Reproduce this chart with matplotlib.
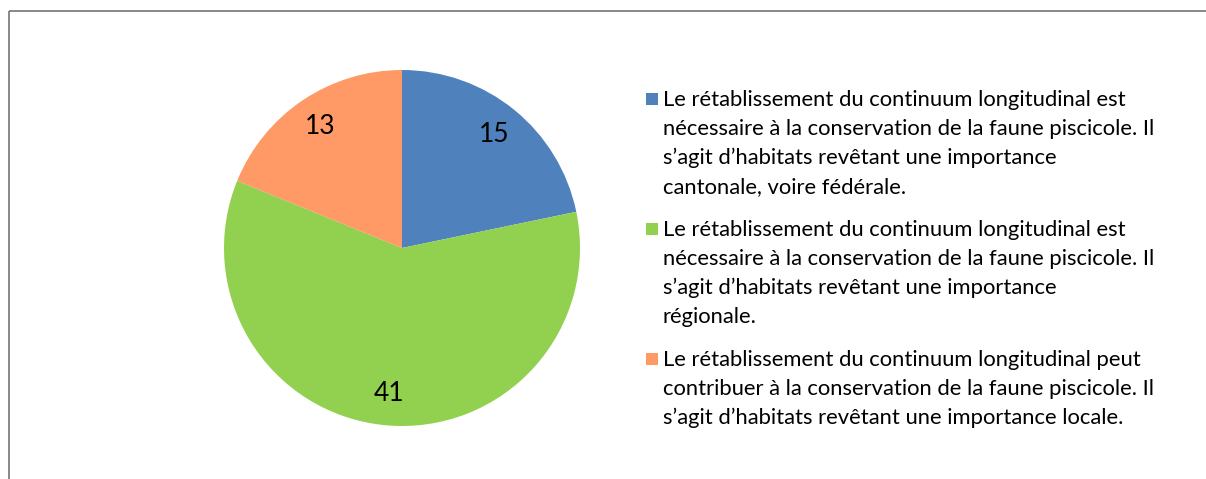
import matplotlib
matplotlib.use("Agg")
import matplotlib.pyplot as plt
from matplotlib.patches import Rectangle

values = [15, 41, 13]
colors = ["#4F81BD", "#92D050", "#FF9966"]
legend_lines = [
    ["Le rétablissement du continuum longitudinal est",
     "nécessaire à la conservation de la faune piscicole. Il",
     "s’agit d’habitats revêtant une importance",
     "cantonale, voire fédérale."],
    ["Le rétablissement du continuum longitudinal est",
     "nécessaire à la conservation de la faune piscicole. Il",
     "s’agit d’habitats revêtant une importance",
     "régionale."],
    ["Le rétablissement du continuum longitudinal peut",
     "contribuer à la conservation de la faune piscicole. Il",
     "s’agit d’habitats revêtant une importance locale."],
]

W, H = 1206, 479
fig = plt.figure(figsize=(W / 100, H / 100), dpi=100)
fig.patch.set_facecolor("white")
FONT = "Lato"

# overlay axes in pixel coordinates
ov = fig.add_axes([0, 0, 1, 1])
ov.set_xlim(0, W)
ov.set_ylim(H, 0)
ov.axis("off")
ov.add_patch(Rectangle((8.5, 10.5), W + 20, H + 20, fill=False,
                       edgecolor="#7f7f7f", linewidth=1.3, zorder=0))

# pie
cx, cy, r = 402, 248, 178
pax = fig.add_axes([(cx - r) / W, (H - cy - r) / H, 2 * r / W, 2 * r / H])
wedges, texts = pax.pie(values, colors=colors, startangle=90, counterclock=False,
                        labels=[str(v) for v in values], labeldistance=0.82,
                        textprops=dict(fontsize=19, family=FONT, color="black"),
                        wedgeprops=dict(linewidth=0))
for t in texts:
    t.set_ha("center")
    t.set_va("center")
pax.set_xlim(-1, 1)
pax.set_ylim(-1, 1)
pax.set_aspect("equal")
pax.axis("off")

# legend
line_h = 29
gap = 14
base = 106
for i, lines in enumerate(legend_lines):
    ov.add_patch(Rectangle((646, base - 13), 12, 12, facecolor=colors[i],
                           edgecolor="none"))
    for j, ln in enumerate(lines):
        ov.text(663, base + j * line_h, ln, fontsize=15.8, family=FONT,
                ha="left", va="baseline", color="black")
    base += len(lines) * line_h + gap

fig.savefig("out.png", dpi=100, facecolor="white")
